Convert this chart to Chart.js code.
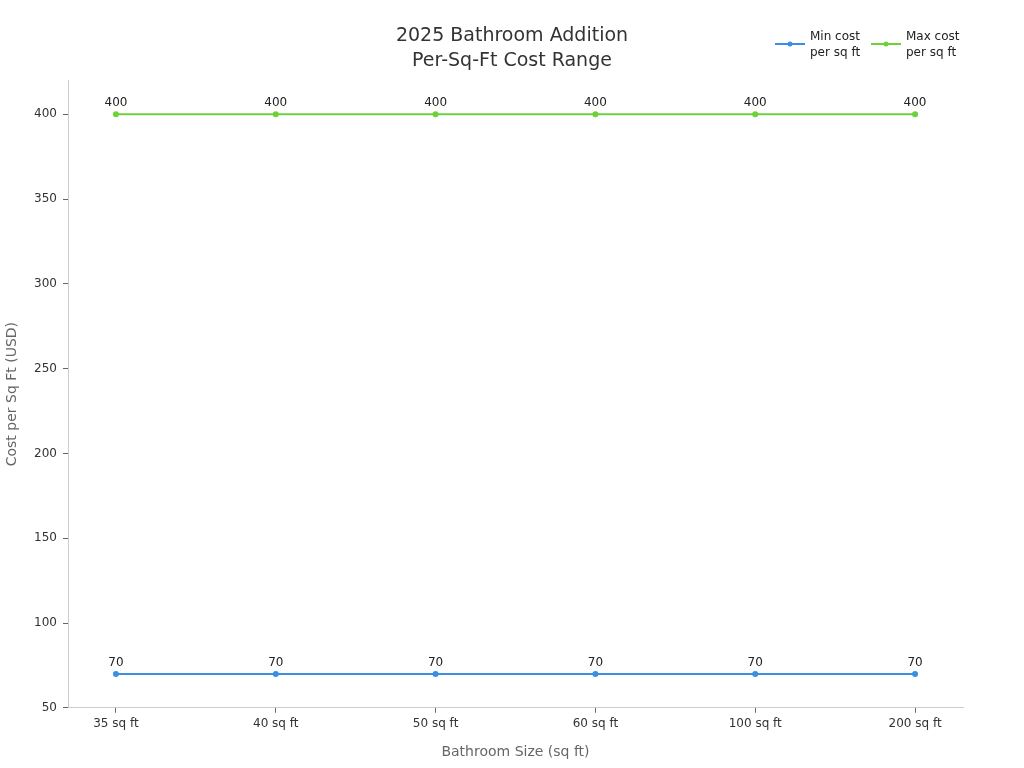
<!DOCTYPE html>
<html>
<head>
<meta charset="utf-8">
<script src="https://cdn.jsdelivr.net/npm/chart.js@4/dist/chart.umd.min.js"></script>
<style>
html,body{margin:0;padding:0;background:#fff;}
#wrap{width:1024px;height:768px;position:relative;}
</style>
</head>
<body>
<div id="wrap"><canvas id="c" width="1024" height="768"></canvas></div>
<script>
const categories = ['35 sq ft','40 sq ft','50 sq ft','60 sq ft','100 sq ft','200 sq ft'];
const minCost = [70,70,70,70,70,70];
const maxCost = [400,400,400,400,400,400];
const seriesNames = [['Min cost','per sq ft'],['Max cost','per sq ft']];
const yTicks = [50,100,150,200,250,300,350,400];

const BLUE = '#3a8fe2';
const GREEN = '#6dd13a';
const FONT = "'DejaVu Sans', sans-serif";

const labelPlugin = {
  id:'pointLabels',
  afterDatasetsDraw(chart){
    const ctx = chart.ctx;
    ctx.save();
    ctx.font = '12px ' + FONT;
    ctx.fillStyle = '#222';
    ctx.textAlign = 'center';
    ctx.textBaseline = 'middle';
    chart.data.datasets.forEach((ds,di)=>{
      const meta = chart.getDatasetMeta(di);
      meta.data.forEach((pt,i)=>{
        ctx.fillText(String(ds.data[i].y), pt.x, pt.y - 11);
      });
    });
    ctx.restore();
  }
};

const legendPlugin = {
  id:'customLegend',
  afterDraw(chart){
    const ctx = chart.ctx;
    ctx.save();
    const starts = [775, 871];
    chart.data.datasets.forEach((ds,di)=>{
      const x0 = starts[di], y = 44;
      ctx.strokeStyle = ds.borderColor;
      ctx.lineWidth = 2;
      ctx.beginPath(); ctx.moveTo(x0,y); ctx.lineTo(x0+30,y); ctx.stroke();
      ctx.fillStyle = ds.borderColor;
      ctx.beginPath(); ctx.arc(x0+15,y,2.5,0,Math.PI*2); ctx.fill();
      ctx.font = '12px ' + FONT;
      ctx.fillStyle = '#222';
      ctx.textAlign = 'left';
      ctx.textBaseline = 'middle';
      seriesNames[di].forEach((t,li)=>ctx.fillText(t, x0+35, 37 + li*16));
    });
    ctx.restore();
  }
};

const toPoints = arr => arr.map((v,i)=>({x:i,y:v}));

new Chart(document.getElementById('c'),{
  type:'line',
  data:{
    datasets:[
      {label:'Min cost per sq ft', data:toPoints(minCost), borderColor:BLUE, backgroundColor:BLUE, borderWidth:2, pointRadius:3, pointBorderWidth:0, pointHoverRadius:3, tension:0},
      {label:'Max cost per sq ft', data:toPoints(maxCost), borderColor:GREEN, backgroundColor:GREEN, borderWidth:2, pointRadius:3, pointBorderWidth:0, pointHoverRadius:3, tension:0}
    ]
  },
  options:{
    responsive:false,
    animation:false,
    layout:{padding:{left:0,right:0,top:0,bottom:3}},
    plugins:{
      legend:{display:false},
      tooltip:{enabled:false},
      title:{display:true, text:['2025 Bathroom Addition','Per-Sq-Ft Cost Range'], color:'#333', font:{family:FONT,size:19,weight:'normal',lineHeight:1.3}, padding:{top:24,bottom:7}}
    },
    scales:{
      x:{
        type:'linear', min:-0.3, max:5.3,
        afterBuildTicks(scale){ scale.ticks = categories.map((_,i)=>({value:i})); },
        ticks:{callback:(v)=>categories[v], color:'#333', font:{family:FONT,size:12}, padding:4, autoSkip:false, maxRotation:0},
        grid:{drawOnChartArea:false, drawTicks:true, tickLength:5, color:'#666'},
        border:{color:'#ccc'},
        title:{display:true, text:'Bathroom Size (sq ft)', color:'#666', font:{family:FONT,size:14}, padding:{top:9}}
      },
      y:{
        type:'linear', min:50, max:420,
        afterBuildTicks(scale){ scale.ticks = yTicks.map(v=>({value:v})); },
        afterFit(scale){ scale.width = 68; },
        ticks:{color:'#333', font:{family:FONT,size:12}, padding:6},
        grid:{drawOnChartArea:false, drawTicks:true, tickLength:5, color:'#666'},
        border:{color:'#ccc'},
        title:{display:true, text:'Cost per Sq Ft (USD)', color:'#666', font:{family:FONT,size:14}, padding:{bottom:8}}
      },
      spacer:{
        type:'linear', position:'right', display:true,
        afterFit(scale){ scale.width = 61; },
        ticks:{display:false},
        grid:{display:false},
        border:{display:false}
      }
    }
  },
  plugins:[labelPlugin, legendPlugin]
});
</script>
</body>
</html>
